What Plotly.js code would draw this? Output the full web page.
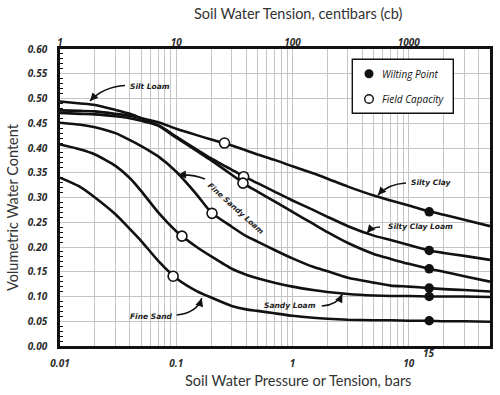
<!DOCTYPE html>
<html>
<head>
<meta charset="utf-8">
<script src="https://cdn.plot.ly/plotly-3.0.1.min.js"></script>
<style>html,body{margin:0;padding:0;background:#fff;}#chart{width:500px;height:395px;}</style>
</head>
<body>
<div id="chart"></div>
<script>
// ---- data (pressure in bars, volumetric water content) ----
const pressureBars = [0.01,0.015,0.02,0.03,0.04,0.05,0.07,0.1,0.15,0.2,0.3,0.4,0.5,0.7,1,1.5,2,3,5,7,10,15,20,30,50];
const siltyClay     = [0.476,0.475,0.474,0.469,0.465,0.460,0.452,0.439,0.426,0.417,0.405,0.395,0.387,0.376,0.363,0.349,0.338,0.322,0.304,0.294,0.284,0.272,0.265,0.255,0.242];
const siltyClayLoam = [0.471,0.469,0.468,0.464,0.460,0.455,0.446,0.423,0.397,0.379,0.356,0.340,0.329,0.312,0.294,0.275,0.261,0.242,0.223,0.214,0.204,0.193,0.188,0.182,0.174];
const siltLoam      = [0.494,0.490,0.487,0.477,0.469,0.460,0.445,0.421,0.394,0.375,0.346,0.325,0.312,0.292,0.271,0.247,0.230,0.208,0.186,0.176,0.166,0.156,0.150,0.141,0.130];
const fineSandyLoam = [0.451,0.447,0.442,0.430,0.416,0.404,0.383,0.352,0.306,0.270,0.241,0.222,0.211,0.194,0.177,0.160,0.151,0.138,0.128,0.122,0.120,0.117,0.115,0.113,0.110];
const sandyLoam     = [0.407,0.397,0.387,0.364,0.339,0.313,0.270,0.232,0.200,0.181,0.156,0.144,0.137,0.128,0.120,0.113,0.109,0.105,0.102,0.101,0.101,0.100,0.100,0.100,0.099];
const fineSand      = [0.340,0.321,0.300,0.266,0.236,0.212,0.172,0.137,0.111,0.098,0.081,0.074,0.071,0.066,0.061,0.057,0.055,0.053,0.052,0.052,0.051,0.051,0.050,0.050,0.049];

// field capacity (open) and wilting point (filled) points
const fcX = [0.26, 0.38, 0.375, 0.203, 0.112, 0.094];
const fcY = [0.410, 0.342, 0.329, 0.268, 0.222, 0.141];
const wpX = [15, 15, 15, 15, 15, 15];
const wpY = [0.271, 0.193, 0.156, 0.117, 0.100, 0.051];

// axis ticks
const barMajor = [0.01, 0.1, 1, 10];
const barMajorText = ['0.01', '0.1', '1', '10'];
const cbTicks = [1, 10, 100, 1000];
const cbTickText = ['1', '10', '100', '1000'];
const curveNames = ['Silty Clay', 'Silty Clay Loam', 'Silt Loam', 'Fine Sandy Loam', 'Sandy Loam', 'Fine Sand'];

// ---- build ----
const gridVals = [], gridText = [];
[0.01, 0.1, 1, 10].forEach(d => {
  for (let m = 1; m <= 9; m++) {
    const v = +(d * m).toPrecision(3);
    if (v > 50) break;
    gridVals.push(v);
    const i = barMajor.indexOf(v);
    gridText.push(i >= 0 ? barMajorText[i] : '');
  }
});
gridVals.push(50); gridText.push('');

const series = [siltyClay, siltyClayLoam, siltLoam, fineSandyLoam, sandyLoam, fineSand];
const traces = series.map((s, i) => ({
  x: pressureBars, y: s, name: curveNames[i], type: 'scatter', mode: 'lines',
  line: {color: '#111', width: 2.6, shape: 'spline', smoothing: 0.6},
  showlegend: false, hoverinfo: 'skip'
}));
traces.push({x: fcX, y: fcY, type: 'scatter', mode: 'markers', name: 'Field Capacity', showlegend: false,
  marker: {symbol: 'circle', size: 10, color: '#fff', line: {color: '#111', width: 1.6}}, hoverinfo: 'skip'});
traces.push({x: wpX, y: wpY, type: 'scatter', mode: 'markers', name: 'Wilting Point', showlegend: false,
  marker: {symbol: 'circle', size: 9.5, color: '#111', line: {width: 0}}, hoverinfo: 'skip'});
traces.push({x: cbTicks, y: [null, null, null, null], xaxis: 'x2', yaxis: 'y', type: 'scatter', mode: 'markers',
  showlegend: false, hoverinfo: 'skip'});

// pixel -> paper helpers (plot area 60..490 x 49..346)
const L = 60, R = 490, T = 49, B = 346;
const fx = p => (p - L) / (R - L);
const fy = p => (B - p) / (B - T);

const tickFont = {family: 'Open Sans', size: 10, color: '#2a2a2a', weight: 'bold', style: 'italic'};
const titleFont = {family: 'Lato', size: 14.5, color: '#333'};
const labFont = {family: 'DejaVu Sans', size: 7.5, color: '#222', weight: 'bold', style: 'italic'};
const legFont = {family: 'Open Sans', size: 10, color: '#111', style: 'italic'};

function txt(px, py, text, font, extra) {
  return Object.assign({xref: 'paper', yref: 'paper', x: fx(px), y: fy(py), text: text, showarrow: false,
    xanchor: 'center', yanchor: 'middle', font: font}, extra || {});
}

const annotations = [
  txt(298, 14, 'Soil Water Tension, centibars (cb)', titleFont),
  txt(298, 380, 'Soil Water Pressure or Tension, bars', titleFont),
  txt(12, 207, 'Volumetric Water Content', titleFont, {textangle: -90}),
  txt(429, 353, '15', tickFont),
  // curve labels
  txt(150, 86, 'Silt Loam', labFont),
  txt(431, 182, 'Silty Clay', labFont),
  txt(420, 227, 'Silty Clay Loam', labFont),
  txt(236, 208, 'Fine Sandy Loam', labFont, {textangle: 42}),
  txt(290, 305, 'Sandy Loam', labFont),
  txt(151, 316, 'Fine Sand', labFont),
  // legend text
  txt(380, 73.7, 'Wilting Point', legFont, {xanchor: 'left'}),
  txt(380, 99, 'Field Capacity', legFont, {xanchor: 'left'})
];

// curved arrows: [tail, control, tip] in pixels
const arrows = [
  [[125, 85.5], [103, 87], [90, 101]],
  [[406, 183], [388, 184], [378, 195]],
  [[380, 227], [372, 227], [367, 233]],
  [[205, 179], [193, 174], [178, 175]],
  [[321.7, 306], [337, 305], [342.3, 294.3]],
  [[176.7, 315], [197, 313], [201.7, 298.3]]
];
const shapes = [];
arrows.forEach(([t, c, h]) => {
  shapes.push({type: 'path', xref: 'paper', yref: 'paper', layer: 'above',
    path: `M ${fx(t[0])},${fy(t[1])} Q ${fx(c[0])},${fy(c[1])} ${fx(h[0])},${fy(h[1])}`,
    line: {color: '#111', width: 1.6}});
  const dx = c[0] - h[0], dy = c[1] - h[1], n = Math.hypot(dx, dy);
  annotations.push({xref: 'paper', yref: 'paper', x: fx(h[0]), y: fy(h[1]), text: '', showarrow: true,
    arrowhead: 2, arrowsize: 1, arrowwidth: 1.6, arrowcolor: '#111', standoff: 0,
    ax: dx / n * 7, ay: dy / n * 7});
});
// legend box and symbols
shapes.push({type: 'rect', xref: 'paper', yref: 'paper', x0: fx(352.3), x1: fx(453.3), y0: fy(59.3), y1: fy(113.3),
  fillcolor: '#fff', line: {color: '#111', width: 1.4}, layer: 'above'});
shapes.push({type: 'circle', xref: 'paper', yref: 'paper', xsizemode: 'pixel', ysizemode: 'pixel',
  xanchor: fx(369), yanchor: fy(73.7), x0: -4.5, x1: 4.5, y0: -4.5, y1: 4.5, fillcolor: '#111', line: {width: 0}, layer: 'above'});
shapes.push({type: 'circle', xref: 'paper', yref: 'paper', xsizemode: 'pixel', ysizemode: 'pixel',
  xanchor: fx(369), yanchor: fy(99), x0: -4.3, x1: 4.3, y0: -4.3, y1: 4.3, fillcolor: '#fff', line: {color: '#111', width: 1.4}, layer: 'above'});

const layout = {
  width: 500, height: 395,
  margin: {l: L, r: 500 - R, t: T, b: 395 - B, pad: 0},
  paper_bgcolor: '#fff', plot_bgcolor: '#fff',
  showlegend: false,
  xaxis: {type: 'log', range: [-2, Math.log10(50)], tickmode: 'array', tickvals: gridVals, ticktext: gridText,
    showgrid: true, gridcolor: '#c4c4c4', gridwidth: 1, zeroline: false,
    showline: true, linecolor: '#111', linewidth: 2.8, mirror: true, ticks: '', tickfont: tickFont,
    ticklabelstandoff: 6},
  xaxis2: {type: 'log', overlaying: 'x', side: 'top', anchor: 'y', range: [0, Math.log10(5000)],
    tickmode: 'array', tickvals: cbTicks, ticktext: cbTickText, showgrid: false, zeroline: false,
    showline: false, ticks: '', tickfont: tickFont, ticklabelstandoff: 0},
  yaxis: {range: [0, 0.6], dtick: 0.05, tickformat: '.2f', showgrid: true, gridcolor: '#c4c4c4', gridwidth: 1,
    zeroline: false, showline: true, linecolor: '#111', linewidth: 2.8, mirror: true, ticks: '',
    tickfont: tickFont, ticklabelstandoff: 8,
    minor: {dtick: 0.01, ticks: 'inside', ticklen: 3, tickcolor: '#111', tickwidth: 1, showgrid: false}},
  annotations: annotations,
  shapes: shapes
};

Plotly.newPlot('chart', traces, layout, {staticPlot: true, displayModeBar: false});
</script>
</body>
</html>
